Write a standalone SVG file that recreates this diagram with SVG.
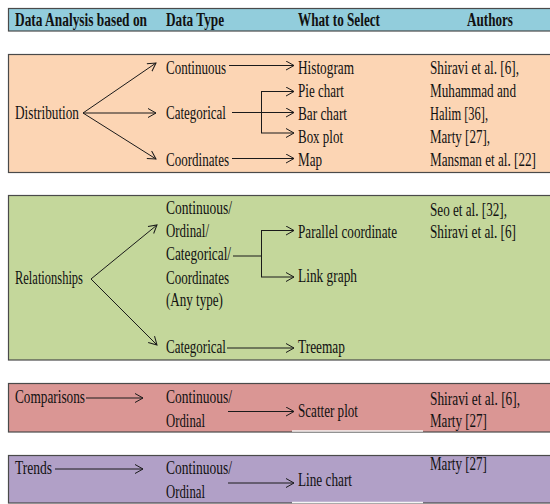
<svg xmlns="http://www.w3.org/2000/svg" width="550" height="504" viewBox="0 0 550 504">
<style>
text{font-family:"Liberation Serif","Times New Roman",serif;font-size:19.5px;fill:#111}
.h{font-weight:bold}
.box{stroke:#4a4a4a;stroke-width:1.2}
.c{stroke:#1a1a1a;stroke-width:1;fill:none}
.a{marker-end:url(#ah)}
.w{stroke:#f4f4f4;stroke-width:1.5}
</style>
<defs>
<marker id="ah" markerWidth="11" markerHeight="11" refX="8.5" refY="5" orient="auto" markerUnits="userSpaceOnUse">
<path d="M0.5,0.5 L8.5,5 L0.5,9.5" fill="none" stroke="#1a1a1a" stroke-width="1"/>
</marker>
</defs>
<rect width="550" height="504" fill="#ffffff"/>

<g id="header">
<rect class="box" x="8.5" y="8.5" width="545" height="22.5" fill="#92cddc"/>
<text class="h" transform="translate(15 25.5) scale(0.7 1)" textLength="188.6" lengthAdjust="spacingAndGlyphs">Data Analysis based on</text>
<text class="h" transform="translate(166 25.5) scale(0.7 1)" textLength="82.9" lengthAdjust="spacingAndGlyphs">Data Type</text>
<text class="h" transform="translate(298 25.5) scale(0.7 1)" textLength="117.1" lengthAdjust="spacingAndGlyphs">What to Select</text>
<text class="h" transform="translate(467 25.5) scale(0.7 1)" textLength="65.7" lengthAdjust="spacingAndGlyphs">Authors</text>
</g>

<g id="distribution">
<rect class="box" x="8.5" y="54.5" width="545" height="118" fill="#fcd5b4"/>
<text transform="translate(15 119) scale(0.7 1)" textLength="91.4" lengthAdjust="spacingAndGlyphs">Distribution</text>
<text transform="translate(166 74) scale(0.7 1)" textLength="85.7" lengthAdjust="spacingAndGlyphs">Continuous</text>
<text transform="translate(166 119) scale(0.7 1)" textLength="85.7" lengthAdjust="spacingAndGlyphs">Categorical</text>
<text transform="translate(166 166) scale(0.7 1)" textLength="90" lengthAdjust="spacingAndGlyphs">Coordinates</text>
<text transform="translate(298 74) scale(0.7 1)" textLength="80" lengthAdjust="spacingAndGlyphs">Histogram</text>
<text transform="translate(298 97) scale(0.7 1)" textLength="65.7" lengthAdjust="spacingAndGlyphs">Pie chart</text>
<text transform="translate(298 120) scale(0.7 1)" textLength="70" lengthAdjust="spacingAndGlyphs">Bar chart</text>
<text transform="translate(298 143) scale(0.7 1)" textLength="64.3" lengthAdjust="spacingAndGlyphs">Box plot</text>
<text transform="translate(298 166) scale(0.7 1)" textLength="34.3" lengthAdjust="spacingAndGlyphs">Map</text>
<text transform="translate(430 74) scale(0.7 1)" textLength="127.1" lengthAdjust="spacingAndGlyphs">Shiravi et al. [6],</text>
<text transform="translate(430 97) scale(0.7 1)" textLength="122.9" lengthAdjust="spacingAndGlyphs">Muhammad and</text>
<text transform="translate(430 120) scale(0.7 1)" textLength="82.9" lengthAdjust="spacingAndGlyphs">Halim [36],</text>
<text transform="translate(430 143) scale(0.7 1)" textLength="85.7" lengthAdjust="spacingAndGlyphs">Marty [27],</text>
<text transform="translate(430 166) scale(0.7 1)" textLength="151.4" lengthAdjust="spacingAndGlyphs">Mansman et al. [22]</text>
</g>

<g id="relationships">
<rect class="box" x="8.5" y="195.5" width="545" height="164.5" fill="#c4d79b"/>
<text transform="translate(15 284) scale(0.7 1)" textLength="97.1" lengthAdjust="spacingAndGlyphs">Relationships</text>
<text transform="translate(166 214) scale(0.7 1)" textLength="94.3" lengthAdjust="spacingAndGlyphs">Continuous/</text>
<text transform="translate(166 237) scale(0.7 1)" textLength="61.4" lengthAdjust="spacingAndGlyphs">Ordinal/</text>
<text transform="translate(166 260) scale(0.7 1)" textLength="92.9" lengthAdjust="spacingAndGlyphs">Categorical/</text>
<text transform="translate(166 284) scale(0.7 1)" textLength="90" lengthAdjust="spacingAndGlyphs">Coordinates</text>
<text transform="translate(166 306) scale(0.7 1)" textLength="81.4" lengthAdjust="spacingAndGlyphs">(Any type)</text>
<text transform="translate(166 353) scale(0.7 1)" textLength="85.7" lengthAdjust="spacingAndGlyphs">Categorical</text>
<text transform="translate(298 238) scale(0.7 1)" textLength="141.4" lengthAdjust="spacingAndGlyphs">Parallel coordinate</text>
<text transform="translate(298 282) scale(0.7 1)" textLength="84.3" lengthAdjust="spacingAndGlyphs">Link graph</text>
<text transform="translate(298 353) scale(0.7 1)" textLength="67.1" lengthAdjust="spacingAndGlyphs">Treemap</text>
<text transform="translate(430 216) scale(0.7 1)" textLength="110" lengthAdjust="spacingAndGlyphs">Seo et al. [32],</text>
<text transform="translate(430 238) scale(0.7 1)" textLength="122.9" lengthAdjust="spacingAndGlyphs">Shiravi et al. [6]</text>
</g>

<g id="comparisons">
<rect class="box" x="8.5" y="383.5" width="545" height="48.5" fill="#da9694"/>
<text transform="translate(15 403) scale(0.7 1)" textLength="100" lengthAdjust="spacingAndGlyphs">Comparisons</text>
<text transform="translate(166 403) scale(0.7 1)" textLength="94.3" lengthAdjust="spacingAndGlyphs">Continuous/</text>
<text transform="translate(166 427) scale(0.7 1)" textLength="55.7" lengthAdjust="spacingAndGlyphs">Ordinal</text>
<text transform="translate(298 417) scale(0.7 1)" textLength="85.7" lengthAdjust="spacingAndGlyphs">Scatter plot</text>
<text transform="translate(430 405) scale(0.7 1)" textLength="128.6" lengthAdjust="spacingAndGlyphs">Shiravi et al. [6],</text>
<text transform="translate(430 427) scale(0.7 1)" textLength="81.4" lengthAdjust="spacingAndGlyphs">Marty [27]</text>
<line class="w" x1="292" y1="431" x2="423" y2="431"/>
</g>

<g id="trends">
<rect class="box" x="8.5" y="455.5" width="545" height="47.5" fill="#b1a0c7"/>
<text transform="translate(15 474) scale(0.7 1)" textLength="52.9" lengthAdjust="spacingAndGlyphs">Trends</text>
<text transform="translate(166 474) scale(0.7 1)" textLength="94.3" lengthAdjust="spacingAndGlyphs">Continuous/</text>
<text transform="translate(166 498) scale(0.7 1)" textLength="55.7" lengthAdjust="spacingAndGlyphs">Ordinal</text>
<text transform="translate(298 486) scale(0.7 1)" textLength="77.1" lengthAdjust="spacingAndGlyphs">Line chart</text>
<text transform="translate(430 470) scale(0.7 1)" textLength="81.4" lengthAdjust="spacingAndGlyphs">Marty [27]</text>
<line class="w" x1="292" y1="502.5" x2="423" y2="502.5"/>
</g>

<g id="connectors">
<line class="c a" x1="83" y1="113" x2="156" y2="63"/>
<line class="c a" x1="83" y1="113" x2="156" y2="113"/>
<line class="c a" x1="83" y1="113" x2="156" y2="159"/>
<line class="c a" x1="229" y1="65.5" x2="294" y2="65.5"/>
<line class="c" x1="232" y1="112.5" x2="261" y2="112.5"/>
<line class="c" x1="261.5" y1="91" x2="261.5" y2="133"/>
<line class="c a" x1="261" y1="91.5" x2="294" y2="91.5"/>
<line class="c a" x1="261" y1="112.5" x2="294" y2="112.5"/>
<line class="c a" x1="261" y1="133" x2="294" y2="133"/>
<line class="c a" x1="232" y1="158.5" x2="294" y2="158.5"/>

<line class="c a" x1="91" y1="279" x2="157" y2="225"/>
<line class="c a" x1="91" y1="279" x2="157" y2="345"/>
<line class="c" x1="233" y1="256" x2="261" y2="256"/>
<line class="c" x1="261.5" y1="230" x2="261.5" y2="277"/>
<line class="c a" x1="261" y1="230.5" x2="294" y2="230.5"/>
<line class="c a" x1="261" y1="277" x2="294" y2="277"/>
<line class="c a" x1="227" y1="348" x2="294" y2="348"/>

<line class="c a" x1="86" y1="398" x2="143" y2="398"/>
<line class="c a" x1="228" y1="411.5" x2="294" y2="411.5"/>
<line class="c a" x1="55" y1="469" x2="143" y2="469"/>
<line class="c a" x1="228" y1="483" x2="294" y2="483"/>
</g>
</svg>
